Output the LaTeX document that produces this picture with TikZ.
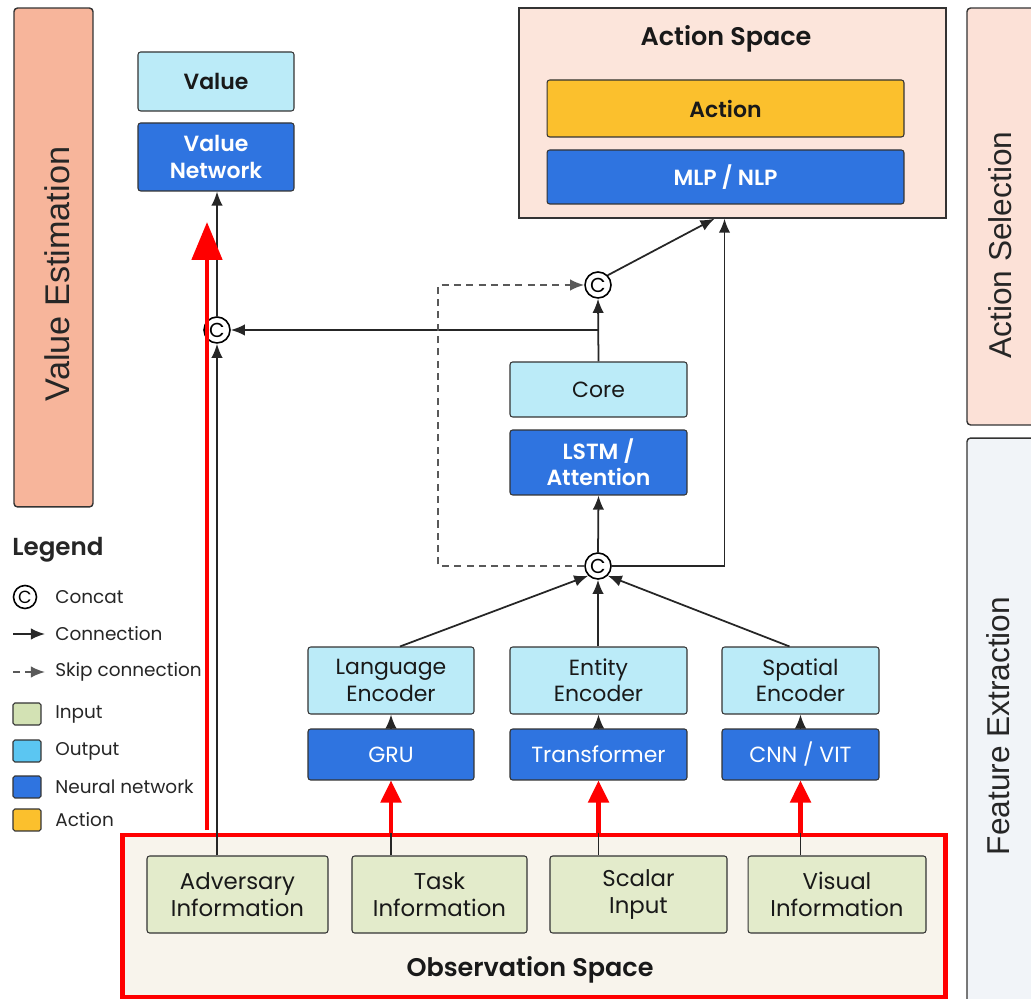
\documentclass[tikz,border=0pt]{standalone}
\usepackage{fontspec}
\setmainfont{Poppins}[BoldFont={Poppins SemiBold}]
\newfontfamily\barfont{Liberation Sans}
\usepackage{tikz}
\usetikzlibrary{arrows, arrows.meta}
\definecolor{estorange}{HTML}{F7B59B}
\definecolor{selpeach}{HTML}{FCE1D7}
\definecolor{featgray}{HTML}{F1F4F8}
\definecolor{spacepeach}{HTML}{FCE5DB}
\definecolor{obsbeige}{HTML}{F8F4EC}
\definecolor{outcyan}{HTML}{BBEBF8}
\definecolor{netblue}{HTML}{2F74E0}
\definecolor{actyellow}{HTML}{FBC02D}
\definecolor{ingreen}{HTML}{E3EBCB}
\definecolor{swgreen}{HTML}{D3E2B4}
\definecolor{swcyan}{HTML}{5BC6F2}
\definecolor{linegray}{HTML}{333333}
\tikzstyle{sidebar} = [rectangle, rounded corners=2pt, draw=linegray, line width=0.8pt]
\tikzstyle{sidetext} = [rotate=90, font=\barfont\fontsize{18}{20}\selectfont, text=black!85]
\tikzstyle{outbox} = [rectangle, rounded corners=1.5pt, draw=linegray, line width=0.6pt, fill=outcyan, align=center, font=\fontsize{12.5}{15}\selectfont, text=black!90]
\tikzstyle{netbox} = [rectangle, rounded corners=1.5pt, draw=linegray, line width=0.6pt, fill=netblue, align=center, font=\fontsize{12.5}{15}\selectfont, text=white]
\tikzstyle{inbox} = [rectangle, rounded corners=1.5pt, draw=linegray, line width=0.6pt, fill=ingreen, align=center, font=\fontsize{13}{15.5}\selectfont, text=black!90]
\tikzstyle{spacebox} = [rectangle, draw=linegray, line width=0.8pt]
\tikzstyle{title} = [font=\bfseries\fontsize{14.5}{17}\selectfont, text=black!90]
\tikzstyle{concat} = [circle, draw=black, fill=white, line width=0.9pt, inner sep=0pt, minimum size=0.52cm, font=\fontsize{11.5}{11.5}\selectfont]
\tikzstyle{swatch} = [rectangle, rounded corners=1pt, draw=linegray, line width=0.6pt, minimum width=0.56cm, minimum height=0.44cm]
\tikzstyle{legtext} = [anchor=west, inner sep=0pt, font=\fontsize{10.5}{13}\selectfont, text=black!85]
\tikzstyle{arrow} = [line width=1pt, -{Latex[length=8pt, width=6.5pt]}, draw=black!85]
\tikzstyle{skip} = [line width=1pt, -{Latex[length=8pt, width=6.5pt]}, draw=black!65, dash pattern=on 4pt off 3pt]
\tikzstyle{bigred} = [red, line width=2.8pt, -{Triangle[length=0.76cm, width=0.6cm]}]
\tikzstyle{redarrow} = [red, line width=2.8pt, -{Triangle[length=0.44cm, width=0.4cm]}]

\begin{document}
\begin{tikzpicture}[x=0.02cm, y=-0.02cm]
\useasboundingbox (0,0) rectangle (1031,999);

% side bars
\node(estbar)[sidebar, fill=estorange, minimum width=1.58cm, minimum height=9.98cm] at (53.5,257.5) {};
\node(esttext)[sidetext, font=\barfont\fontsize{19.5}{22}\selectfont] at (57,274) {Value Estimation};
\node(selbar)[sidebar, fill=selpeach, minimum width=1.6cm, minimum height=8.34cm] at (1007,216.5) {};
\node(seltext)[sidetext] at (1000,245) {Action Selection};
\node(featbar)[sidebar, fill=featgray, minimum width=1.6cm, minimum height=11.4cm] at (1007,723) {};
\node(feattext)[sidetext] at (998,726) {Feature Extraction};

% value head
\node(value)[outbox, font=\bfseries\fontsize{12.5}{15}\selectfont, minimum width=3.12cm, minimum height=1.18cm] at (216,81.5) {Value};
\node(valnet)[netbox, font=\bfseries\fontsize{12.5}{15}\selectfont, minimum width=3.12cm, minimum height=1.36cm] at (216,157) {Value\\Network};

% action space
\node(aspace)[spacebox, fill=spacepeach, minimum width=8.54cm, minimum height=4.2cm] at (732.5,113) {};
\node(astitle)[title] at (726,39) {Action Space};
\node(action)[outbox, fill=actyellow, font=\bfseries\fontsize{12.5}{15}\selectfont, minimum width=7.14cm, minimum height=1.14cm] at (725.5,108.5) {Action};
\node(mlp)[netbox, font=\bfseries\fontsize{12.5}{15}\selectfont, minimum width=7.14cm, minimum height=1.08cm] at (725.5,177) {MLP / NLP};

% core
\node(c1)[concat] at (217,330) {C};
\node(c2)[concat] at (598,285) {C};
\node(c3)[concat] at (598,566) {C};
\node(core)[outbox, minimum width=3.54cm, minimum height=1.1cm] at (598.5,389.5) {Core};
\node(lstm)[netbox, font=\bfseries\fontsize{12.5}{15}\selectfont, minimum width=3.54cm, minimum height=1.3cm] at (598.5,462.5) {LSTM /\\Attention};

% encoders
\node(lang)[outbox, minimum width=3.32cm, minimum height=1.34cm] at (391,680.5) {Language\\Encoder};
\node(entity)[outbox, minimum width=3.54cm, minimum height=1.34cm] at (598.5,680.5) {Entity\\Encoder};
\node(spatial)[outbox, minimum width=3.14cm, minimum height=1.34cm] at (800.5,680.5) {Spatial\\Encoder};
\node(gru)[netbox, minimum width=3.32cm, minimum height=1.02cm] at (391,754.5) {GRU};
\node(transf)[netbox, minimum width=3.54cm, minimum height=1.02cm] at (598.5,754.5) {Transformer};
\node(cnn)[netbox, minimum width=3.14cm, minimum height=1.02cm] at (800.5,754.5) {CNN / VIT};

% observation space
\node(obs)[spacebox, draw=red, line width=2.8pt, fill=obsbeige, minimum width=16.48cm, minimum height=3.24cm] at (534,916) {};
\node(obstitle)[title] at (530,970) {Observation Space};
\node(adv)[inbox, minimum width=3.62cm, minimum height=1.54cm] at (237.5,894.5) {Adversary\\Information};
\node(task)[inbox, minimum width=3.5cm, minimum height=1.54cm] at (439.5,894.5) {Task\\Information};
\node(scalar)[inbox, minimum width=3.54cm, minimum height=1.54cm] at (638.5,894.5) {Scalar\\Input};
\node(visual)[inbox, minimum width=3.56cm, minimum height=1.54cm] at (837,894.5) {Visual\\Information};

% legend
\node(legend)[anchor=west, inner sep=0pt, font=\bfseries\fontsize{14}{16}\selectfont, text=black!85] at (12,550) {Legend};
\node(lgc)[concat, minimum size=0.46cm, font=\fontsize{10}{10}\selectfont] at (25,597) {C};
\node(lgctext)[legtext] at (55,597) {Concat};
\coordinate(lga) at (13,634);
\coordinate(lgb) at (45,634);
\node(lgatext)[legtext] at (55,634) {Connection};
\coordinate(lgs) at (13,672);
\coordinate(lgt) at (45,672);
\node(lgstext)[legtext] at (55,672) {Skip connection};
\node(swin)[swatch, fill=swgreen] at (27,714) {};
\node(swintext)[legtext] at (55,714) {Input};
\node(swout)[swatch, fill=swcyan] at (27,751) {};
\node(swouttext)[legtext] at (55,751) {Output};
\node(swnet)[swatch, fill=netblue] at (27,787) {};
\node(swnettext)[legtext] at (55,787) {Neural network};
\node(swact)[swatch, fill=actyellow] at (27,820) {};
\node(swacttext)[legtext] at (55,820) {Action};

\draw[arrow] (lga) -- (lgb);
\draw[skip] (lgs) -- (lgt);

% connections
\draw[arrow] (c1 |- adv.north) -- (c1.south);
\draw[arrow] (c1.north) -- (c1 |- valnet.south);
\draw[arrow] (core.north) -- (c2.south);
\draw[arrow] (core.north |- c1) -- (c1.east);
\draw[arrow] (c2.north east) -- ([xshift=-0.36cm]aspace.south);
\draw[arrow] (c3.east) -| ([xshift=-0.16cm]aspace.south);
\draw[skip] (c3.west) -- ++(-146,0) |- (c2.west);
\draw[arrow] (c3.north) -- (lstm.south);
\draw[arrow] ([xshift=0.18cm]lang.north) -- (c3.south west);
\draw[arrow] (entity.north -| c3) -- (c3.south);
\draw[arrow] ([xshift=-0.22cm]spatial.north) -- (c3.south east);
\draw[arrow] (gru.north) -- (lang.south);
\draw[arrow] (transf.north) -- (entity.south);
\draw[arrow] (cnn.north) -- (spatial.south);
\draw[arrow] (gru.south |- task.north) -- (gru.south);
\draw[arrow] (transf.south |- scalar.north) -- (transf.south);
\draw[arrow] (cnn.south |- visual.north) -- (cnn.south);

% red marks
\coordinate(redtail) at (207,830);
\coordinate(redtip) at (207,222);
\draw[bigred] (redtail) -- (redtip);
\draw[redarrow] (gru.south |- obs.north) -- (gru.south);
\draw[redarrow] (transf.south |- obs.north) -- (transf.south);
\draw[redarrow] (cnn.south |- obs.north) -- (cnn.south);

\end{tikzpicture}
\end{document}
